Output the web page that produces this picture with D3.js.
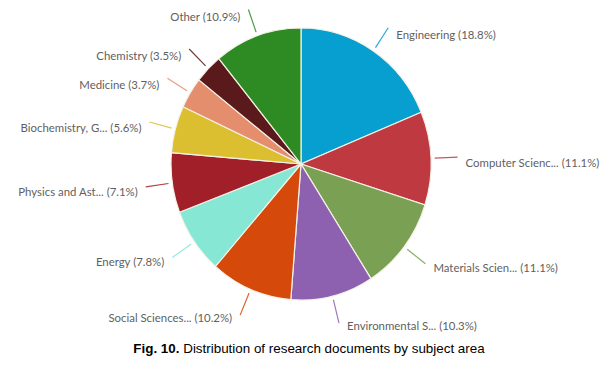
<!DOCTYPE html>
<html><head><meta charset="utf-8">
<script src="https://cdn.jsdelivr.net/npm/d3@7"></script>
<style>body{margin:0;background:#fff}svg{display:block}</style>
</head><body>
<svg id="c" width="610" height="380"></svg>
<script>
const categories = ["Engineering","Computer Scienc...","Materials Scien...","Environmental S...","Social Sciences...","Energy","Physics and Ast...","Biochemistry, G...","Medicine","Chemistry","Other"];
const values = [18.8,11.1,11.1,10.3,10.2,7.8,7.1,5.6,3.7,3.5,10.9];
const colors = ["#079fcf","#bf3a40","#79a053","#8d61b0","#d54a0b","#86e7d4","#a11f29","#dcbf30","#e48e6e","#5a1a1b","#2e8b23"];
const captionBold = "Fig. 10.";
const captionText = " Distribution of research documents by subject area";

const svg = d3.select("#c");
const cx = 301, cy = 164, R = 136, sx = 130/136;
const data = categories.map((c,i)=>({name:c,value:values[i],color:colors[i]}));
const pie = d3.pie().value(d=>d.value).sort(null);
const arcs = pie(data);
const arc = d3.arc().innerRadius(0).outerRadius(R);

const g = svg.append("g").attr("transform",`translate(${cx},${cy}) scale(${sx},1)`);
g.selectAll("path").data(arcs).join("path")
  .attr("d",arc).attr("fill",d=>d.data.color)
  .attr("stroke","#f4f1e6").attr("stroke-width",1.2).attr("vector-effect","non-scaling-stroke");

const pt = (a,r)=>[cx+Math.sin(a)*r*sx, cy-Math.cos(a)*r];
arcs.forEach(d=>{
  const a=(d.startAngle+d.endAngle)/2;
  const p0=pt(a,R+4), p1=pt(a,R+28);
  svg.append("line").attr("x1",p0[0]).attr("y1",p0[1]).attr("x2",p1[0]).attr("y2",p1[1])
    .attr("stroke",d.data.color).attr("stroke-width",1.2).attr("opacity",0.85);
  const right=Math.sin(a)>=0;
  svg.append("text").attr("x",p1[0]+(right?8:-8)).attr("y",p1[1]+9.5+2.5*Math.cos(a))
    .attr("text-anchor",right?"start":"end")
    .attr("font-family","Lato, 'Noto Sans', sans-serif").attr("font-size",11.4)
    .attr("fill","#5f5f5f")
    .text(`${d.data.name} (${d.data.value}%)`);
});

const cap = svg.append("text").attr("x",309).attr("y",353).attr("text-anchor","middle")
  .attr("font-family","'Liberation Sans', Arial, sans-serif").attr("font-size",13.4).attr("fill","#000");
cap.append("tspan").attr("font-weight","bold").text(captionBold);
cap.append("tspan").text(captionText);
</script>
</body></html>
